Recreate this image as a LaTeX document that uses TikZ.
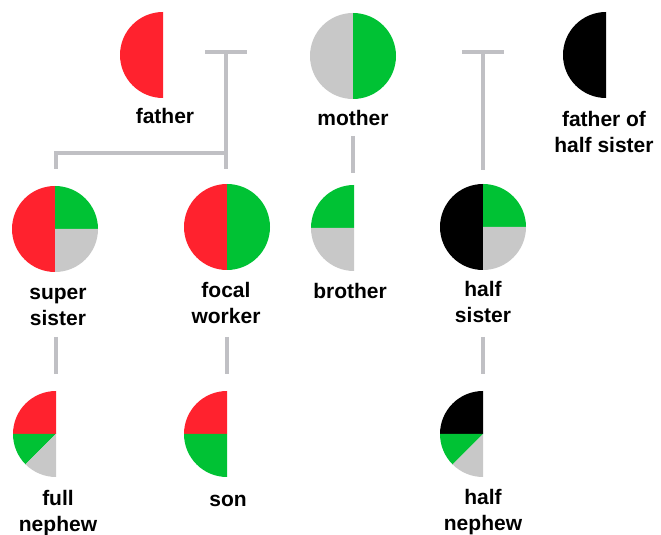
\documentclass[tikz,border=0pt]{standalone}
\usepackage{fontspec}
\setmainfont{Liberation Sans}
\definecolor{pred}{RGB}{255,34,46}
\definecolor{pgreen}{RGB}{0,194,52}
\definecolor{pgrey}{RGB}{200,200,200}
\definecolor{lgrey}{RGB}{192,192,196}
\newcommand\mysector[4]{\fill[#4] (#1) -- ++(#2:43) arc[start angle=#2,end angle=#3,radius=43] -- cycle;}
\newcommand\twolines[2]{\begin{tabular}[t]{@{}c@{}}#1\\#2\end{tabular}}
\begin{document}
\begin{tikzpicture}[x=1pt,y=1pt,
  lbl/.style={font=\bfseries\fontsize{21}{26}\selectfont, anchor=base, inner sep=0pt},
  conn/.style={draw=lgrey, line width=4pt}]
\useasboundingbox (0,0) rectangle (661,535);
% person centres
\coordinate (fa) at (163,480);
\coordinate (mo) at (353,479);
\coordinate (fhs) at (606,480);
\coordinate (ss) at (55,306);
\coordinate (fw) at (227,308);
\coordinate (br) at (354,307);
\coordinate (hs) at (483,308);
\coordinate (fn) at (56,101);
\coordinate (so) at (227,101);
\coordinate (hn) at (483,101);
% pies
\mysector{fa}{90}{270}{pred}
\mysector{mo}{90}{270}{pgrey}
\mysector{mo}{-90}{90}{pgreen}
\mysector{fhs}{90}{270}{black}
\mysector{ss}{90}{270}{pred}
\mysector{ss}{0}{90}{pgreen}
\mysector{ss}{-90}{0}{pgrey}
\mysector{fw}{90}{270}{pred}
\mysector{fw}{-90}{90}{pgreen}
\mysector{br}{90}{180}{pgreen}
\mysector{br}{180}{270}{pgrey}
\mysector{hs}{90}{270}{black}
\mysector{hs}{0}{90}{pgreen}
\mysector{hs}{-90}{0}{pgrey}
\mysector{fn}{90}{180}{pred}
\mysector{fn}{180}{225}{pgreen}
\mysector{fn}{225}{270}{pgrey}
\mysector{so}{90}{180}{pred}
\mysector{so}{180}{270}{pgreen}
\mysector{hn}{90}{180}{black}
\mysector{hn}{180}{225}{pgreen}
\mysector{hn}{225}{270}{pgrey}
% labels
\node[lbl] (faL) at (165,411.7) {father};
\node[lbl] (moL) at (353,409) {mother};
\node[lbl] (fhsL) at (604,408) {\twolines{father of}{half sister}};
\node[lbl] (ssL) at (58,235) {\twolines{super}{sister}};
\node[lbl] (fwL) at (226,237) {\twolines{focal}{worker}};
\node[lbl] (brL) at (350,236) {brother};
\node[lbl] (hsL) at (483,238) {\twolines{half}{sister}};
\node[lbl] (fnL) at (58,29) {\twolines{full}{nephew}};
\node[lbl] (soL) at (228,28) {son};
\node[lbl] (hnL) at (483,30) {\twolines{half}{nephew}};
% connector points
\coordinate (t1a) at (205,483);
\coordinate (t1b) at (247,483);
\coordinate (t1c) at (226,483);
\coordinate (t1d) at (226,366);
\coordinate (t1e) at (226,382);
\coordinate (t1g) at (56,366);
\coordinate (m1) at (353,399);
\coordinate (m2) at (353,362);
\coordinate (t2a) at (462,483);
\coordinate (t2b) at (504,483);
\coordinate (t2c) at (483,483);
\coordinate (t2d) at (483,365);
\coordinate (d1a) at (56,198);
\coordinate (d1b) at (56,161);
\coordinate (d2a) at (227,198);
\coordinate (d2b) at (227,161);
\coordinate (d3a) at (483,198);
\coordinate (d3b) at (483,161);
% connectors
\draw[conn] (t1a) -- (t1b);
\draw[conn] (t1c) -- (t1d);
\draw[conn] (t1e) -| (t1g);
\draw[conn] (m1) -- (m2);
\draw[conn] (t2a) -- (t2b);
\draw[conn] (t2c) -- (t2d);
\draw[conn] (d1a) -- (d1b);
\draw[conn] (d2a) -- (d2b);
\draw[conn] (d3a) -- (d3b);
\end{tikzpicture}
\end{document}
